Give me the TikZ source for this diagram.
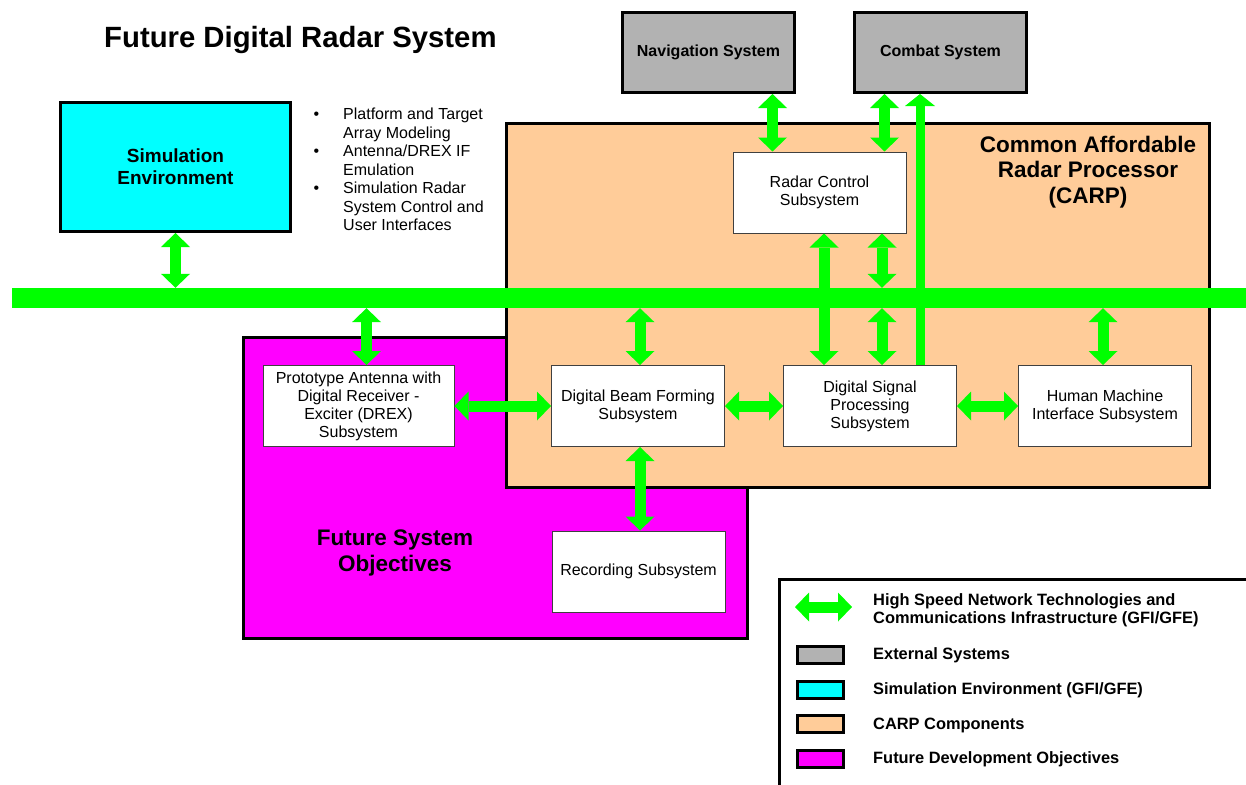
\documentclass[tikz,border=0pt]{standalone}
\usepackage{fontspec}
\setmainfont{Liberation Sans}
\usetikzlibrary{arrows.meta}

\definecolor{netgreen}{HTML}{00FF00}
\definecolor{simcyan}{HTML}{00FFFF}
\definecolor{extgray}{HTML}{B2B2B2}
\definecolor{carppeach}{HTML}{FFCC99}
\definecolor{futmagenta}{HTML}{FF00FF}

\begin{document}
\begin{tikzpicture}[x=1pt,y=-1pt,>={Triangle[width=29pt,length=14pt,line width=0pt]},
    link/.style={color=netgreen,line width=11pt,<->},
    uplink/.style={color=netgreen,line width=9pt,-{Triangle[width=30pt,length=12pt,line width=0pt]}},
    ext node/.style={draw,line width=3pt,fill=extgray,minimum width=172pt,minimum height=80pt,font=\fontsize{16}{18}\selectfont\bfseries},
    sub node/.style={draw=black!75,line width=1pt,fill=white,minimum width=173pt,minimum height=81pt,align=center,inner sep=2pt,font=\fontsize{16}{18}\selectfont},
    big label/.style={align=center,font=\fontsize{22.5}{25.5}\selectfont\bfseries},
    swatch/.style={draw,line width=3pt,minimum width=46pt,minimum height=17pt,inner sep=0pt},
    key text/.style={anchor=west,align=left,inner sep=0pt,font=\fontsize{16.4}{18}\selectfont\bfseries}]
    \useasboundingbox (0,0) rectangle (1246,784);

    % background regions
    \node[draw,line width=3pt,fill=futmagenta,minimum width=504pt,minimum height=301pt] (future) at (495.5,488) {};
    \node[draw,line width=3pt,fill=carppeach,minimum width=703pt,minimum height=364pt] (carp) at (858,305.5) {};
    \node[fill=netgreen,inner sep=0pt,minimum width=1234pt,minimum height=20pt] (bus) at (629,298) {};

    \node[anchor=base west,inner sep=0pt,font=\fontsize{29.3}{34}\selectfont\bfseries] (title) at (104,48) {Future Digital Radar System};
    \node[big label] (carplabel) at (1088,172) {Common Affordable\\Radar Processor\\(CARP)};
    \node[big label] (futlabel) at (395,553) {Future System\\Objectives};

    % external systems and simulation
    \node[draw,line width=3pt,fill=simcyan,minimum width=230pt,minimum height=129pt,align=center,font=\fontsize{19}{22}\selectfont\bfseries] (simenv) at (175.5,167) {Simulation\\Environment};
    \node[anchor=north west,inner sep=0pt,align=left,font=\fontsize{16}{18.5}\selectfont] (notes) at (343,108)
        {\llap{•\hspace{24pt}}Platform and Target\\Array Modeling\\\llap{•\hspace{24pt}}Antenna/DREX IF\\Emulation\\\llap{•\hspace{24pt}}Simulation Radar\\System Control and\\User Interfaces};
    \node[ext node] (nav) at (708.5,52.5) {Navigation System};
    \node[ext node] (combat) at (940.5,52.5) {Combat System};

    % subsystems
    \node[sub node] (rc) at (819.5,192.5) {Radar Control\\Subsystem};
    \node[sub node,minimum width=191pt] (proto) at (358.5,406) {Prototype Antenna with\\Digital Receiver -\\Exciter (DREX)\\Subsystem};
    \node[sub node] (dbf) at (638,406) {Digital Beam Forming\\Subsystem};
    \node[sub node] (dsp) at (870,406) {Digital Signal\\Processing\\Subsystem};
    \node[sub node] (hmi) at (1105,406) {Human Machine\\Interface Subsystem};
    \node[sub node] (rec) at (638.5,571.5) {Recording Subsystem};

    \path[link]
        (simenv.south) edge (simenv.south |- bus.north)
        ([xshift=64pt]nav.south) edge ([xshift=64pt]nav.south |- rc.north)
        ([xshift=-56pt]combat.south) edge ([xshift=-56pt]combat.south |- rc.north)
        ([xshift=-46pt]dsp.north) edge ([xshift=-46pt]dsp.north |- rc.south)
        ([xshift=12pt]dsp.north |- rc.south) edge ([xshift=12pt]dsp.north |- bus.north)
        ([xshift=12pt]dsp.north) edge ([xshift=12pt]dsp.north |- bus.south)
        ([xshift=8pt]proto.north) edge ([xshift=8pt]proto.north |- bus.south)
        ([xshift=2pt]dbf.north) edge ([xshift=2pt]dbf.north |- bus.south)
        ([xshift=-2pt]hmi.north) edge ([xshift=-2pt]hmi.north |- bus.south)
        (proto.east) edge (dbf.west)
        (dbf.east) edge (dsp.west)
        (dsp.east) edge (hmi.west)
        ([xshift=2pt]dbf.south) edge ([xshift=2pt]dbf.south |- rec.north)
        ;
    \path[uplink] ([xshift=50pt]dsp.north) edge ([xshift=50pt]dsp.north |- combat.south);

    % legend
    \node[draw,line width=3pt,anchor=north west,minimum width=500pt,minimum height=250pt] (legend) at (778,578) {};
    \coordinate (keyL) at (795,607);
    \coordinate (keyR) at (852,607);
    \path[link] (keyL) edge (keyR);
    \node[swatch,fill=extgray] (sw1) at (820.5,655) {};
    \node[swatch,fill=simcyan] (sw2) at (820.5,690) {};
    \node[swatch,fill=carppeach] (sw3) at (820.5,724) {};
    \node[swatch,fill=futmagenta] (sw4) at (820.5,759) {};
    \node[key text] (key0) at (873,610) {High Speed Network Technologies and\\Communications Infrastructure (GFI/GFE)};
    \node[key text] (key1) at (873,655) {External Systems};
    \node[key text] (key2) at (873,690) {Simulation Environment (GFI/GFE)};
    \node[key text] (key3) at (873,725) {CARP Components};
    \node[key text] (key4) at (873,759) {Future Development Objectives};
\end{tikzpicture}
\end{document}
